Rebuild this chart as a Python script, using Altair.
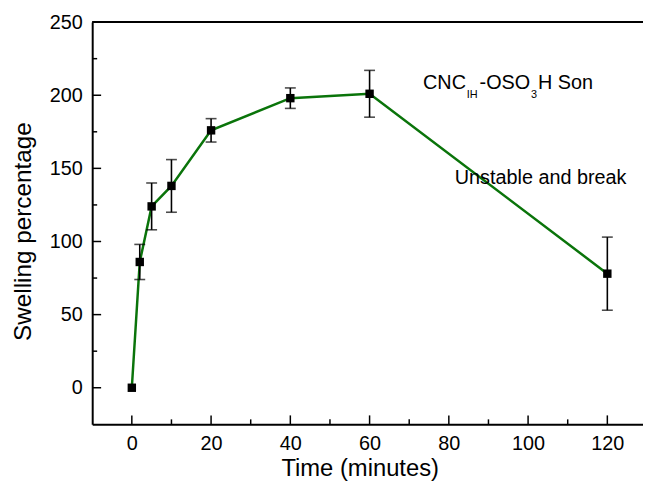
import altair as alt
import pandas as pd

# ---- data ----
time_min = [0, 2, 5, 10, 20, 40, 60, 120]
swelling = [0, 86, 124, 138, 176, 198, 201, 78]
err = [0, 12, 16, 18, 8, 7, 16, 25]

x_major = [0, 20, 40, 60, 80, 100, 120]
x_minor = [10, 30, 50, 70, 90, 110]
y_major = [0, 50, 100, 150, 200, 250]
y_minor = [25, 75, 125, 175, 225]

label_pieces = ["CNC", "IH", "-OSO", "3", "H Son"]
note_text = "Unstable and break"

# ---- layout ----
W, H = 556, 406
FONT = "Liberation Sans"
GREEN = "#0a740a"

df = pd.DataFrame({"t": time_min, "s": swelling, "e": err})
df["lo"] = df["s"] - df["e"]
df["hi"] = df["s"] + df["e"]
df_err = df[df["e"] > 0]

xs = alt.Scale(domain=[-10, 129], nice=False, zero=False)
ys = alt.Scale(domain=[-25, 250], nice=False, zero=False)

x_axis = alt.Axis(
    values=x_major, ticks=False, tickSize=0, grid=False,
    domainColor="black", domainWidth=2,
    labelFont=FONT, labelFontSize=20, labelColor="black", labelPadding=9,
    title="Time (minutes)", titleFont=FONT, titleFontSize=24,
    titleFontWeight="normal", titleColor="black",
    titleX=270, titleY=52, titleBaseline="alphabetic", titleAlign="center",
)
y_axis = alt.Axis(
    values=y_major, ticks=False, tickSize=0, grid=False,
    domainColor="black", domainWidth=2,
    labelFont=FONT, labelFontSize=20, labelColor="black", labelPadding=10,
    title="Swelling percentage", titleFont=FONT, titleFontSize=24.5,
    titleFontWeight="normal", titleColor="black",
    titleAngle=270, titleX=-62, titleY=211, titleBaseline="alphabetic",
    titleAlign="center",
)


def X(field):
    return alt.X(field, scale=xs, axis=x_axis)


def Y(field):
    return alt.Y(field, scale=ys, axis=y_axis)


line = alt.Chart(df).mark_line(color=GREEN, strokeWidth=2.5).encode(
    x=X("t:Q"), y=Y("s:Q"),
)

bars = alt.Chart(df_err).mark_rule(color="black", strokeWidth=1.6).encode(
    x=X("t:Q"), y=Y("lo:Q"), y2="hi:Q",
)
cap_lo = alt.Chart(df_err).mark_tick(color="black", orient="horizontal", size=11, thickness=1.6).encode(
    x=X("t:Q"), y=Y("lo:Q"),
)
cap_hi = alt.Chart(df_err).mark_tick(color="black", orient="horizontal", size=11, thickness=1.6).encode(
    x=X("t:Q"), y=Y("hi:Q"),
)
pts = alt.Chart(df).mark_square(color="black", size=72, opacity=1).encode(
    x=X("t:Q"), y=Y("s:Q"),
)

# inward ticks
xt_major = alt.Chart(pd.DataFrame({"v": x_major})).mark_rule(color="black", strokeWidth=1.5).encode(
    x=X("v:Q"), y=alt.value(H), y2=alt.value(H - 9))
xt_minor = alt.Chart(pd.DataFrame({"v": x_minor})).mark_rule(color="black", strokeWidth=1.5).encode(
    x=X("v:Q"), y=alt.value(H), y2=alt.value(H - 5))
yt_major = alt.Chart(pd.DataFrame({"v": y_major})).mark_rule(color="black", strokeWidth=1.5).encode(
    y=Y("v:Q"), x=alt.value(0), x2=alt.value(9))
yt_minor = alt.Chart(pd.DataFrame({"v": y_minor})).mark_rule(color="black", strokeWidth=1.5).encode(
    y=Y("v:Q"), x=alt.value(0), x2=alt.value(5))
top_line = alt.Chart(pd.DataFrame({"v": [250]})).mark_rule(color="black", strokeWidth=2).encode(
    y=Y("v:Q"), x=alt.value(0), x2=alt.value(W))

# annotation with subscripts
piece_dx = [0, 44, 57, 109, 116]
piece_dy = [0, 10, 0, 10, 0]
piece_size = [20, 11, 20, 11, 20]
ann_layers = []
for txt, dx, dy, fs in zip(label_pieces, piece_dx, piece_dy, piece_size):
    ann_layers.append(
        alt.Chart(pd.DataFrame({"x": [73.5], "y": [204.6], "txt": [txt]})).mark_text(
            font=FONT, fontSize=fs, color="black", align="left", baseline="alphabetic",
            dx=dx, dy=dy,
        ).encode(x=X("x:Q"), y=Y("y:Q"), text="txt:N")
    )
note = alt.Chart(pd.DataFrame({"x": [81.5], "y": [139.6], "txt": [note_text]})).mark_text(
    font=FONT, fontSize=20, color="black", align="left", baseline="alphabetic",
).encode(x=X("x:Q"), y=Y("y:Q"), text="txt:N")

chart = alt.layer(
    line, bars, cap_lo, cap_hi, pts,
    xt_major, xt_minor, yt_major, yt_minor, top_line,
    *ann_layers, note,
).properties(
    width=W, height=H,
    autosize=alt.AutoSizeParams(type="none"),
    padding={"left": 85, "top": 12, "right": 0, "bottom": 57},
    background="white",
).configure_view(stroke=None)

chart.save("out.html", embed_options={"renderer": "svg", "actions": False})
